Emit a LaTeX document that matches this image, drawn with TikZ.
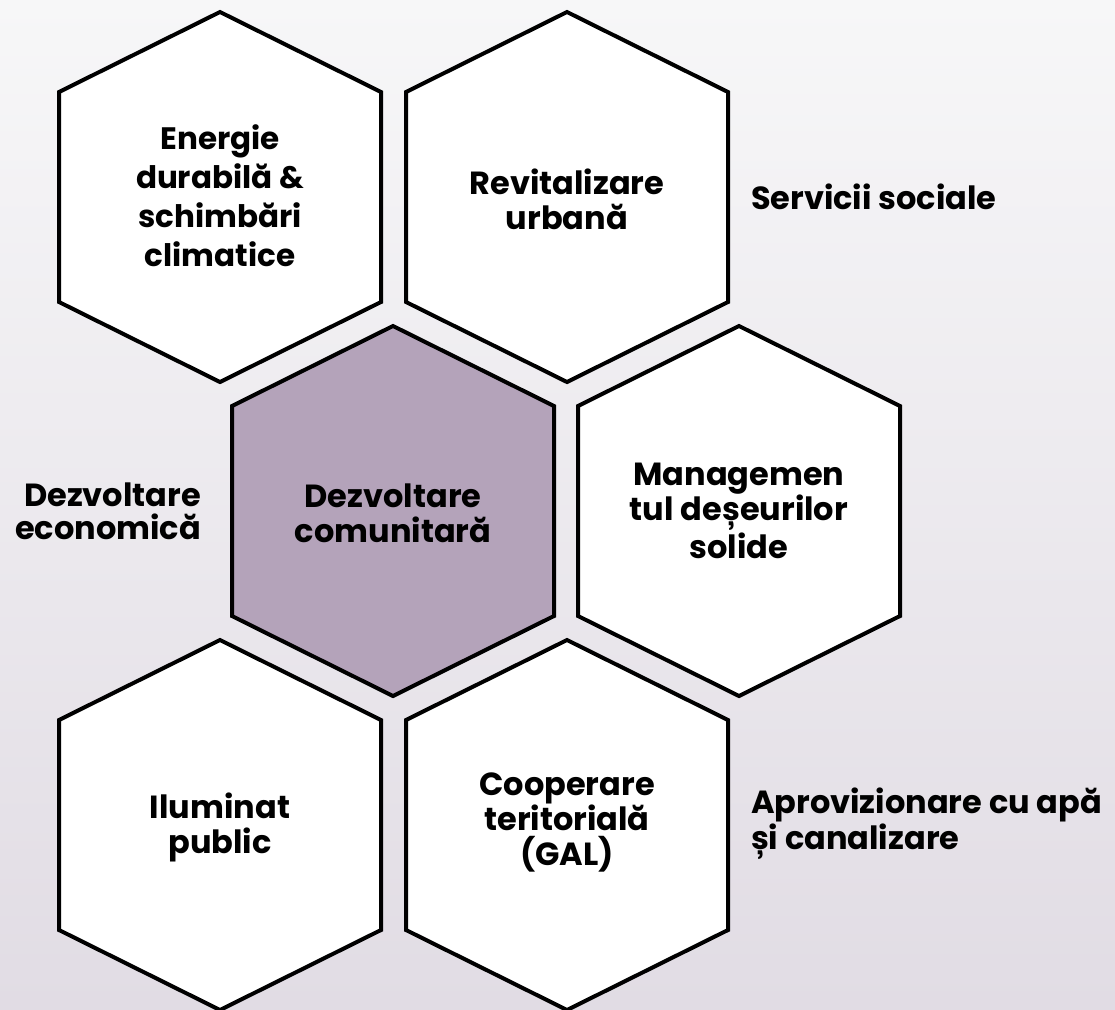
\documentclass[tikz,border=0pt]{standalone}
\usepackage{fontspec}
\setmainfont{Poppins}
\usetikzlibrary{positioning}

\definecolor{bgtop}{HTML}{F7F7F8}
\definecolor{bgbottom}{HTML}{E1DCE4}
\definecolor{lilac}{HTML}{B4A3BA}

\tikzset{
  hexline/.style={line width=2pt, draw=black},
  hextext/.style={align=center, font=\fontsize{16}{17.5}\selectfont\bfseries},
  sidetext/.style={font=\fontsize{16}{16.5}\selectfont\bfseries}
}

% one hexagon round a centre, pointed top
\newcommand{\hexcell}[3]{\draw[hexline, fill=#3] (#1,#2) ++(0,-185) -- ++(161,80) -- ++(0,210) -- ++(-161,80) -- ++(-161,-80) -- ++(0,-210) -- cycle;}

\begin{document}
\begin{tikzpicture}[x=0.5pt, y=-0.5pt]
\shade[top color=bgtop, bottom color=bgbottom] (0,0) rectangle (1115,1009);
\useasboundingbox (0,0) rectangle (1115,1009);

\hexcell{220}{197}{white} \hexcell{567}{197}{white}
\hexcell{393}{511}{lilac} \hexcell{739}{511}{white}
\hexcell{220}{825}{white} \hexcell{567}{825}{white}

\node[hextext, font=\fontsize{15.5}{19.5}\selectfont\bfseries] (energie) at (220,196) {Energie\\durabilă \&\\schimbări\\climatice};
\node[hextext] (revitalizare) at (567,199) {Revitalizare\\urbană};
\node[hextext] (comunitara) at (393,513) {Dezvoltare\\comunitară};
\node[hextext] (deseuri) at (739,511) {Managemen\\tul deșeurilor\\solide};
\node[hextext] (iluminat) at (220,827) {Iluminat\\public};
\node[hextext] (cooperare) at (567,822) {Cooperare\\teritorială\\(GAL)};

\node[sidetext, anchor=west] (servicii) at (744,197) {Servicii sociale};
\node[sidetext, anchor=east, align=right] (economica) at (208,511) {Dezvoltare\\economică};
\node[sidetext, anchor=west, align=left] (apa) at (744,824) {Aprovizionare cu apă\\și canalizare};
\end{tikzpicture}
\end{document}
